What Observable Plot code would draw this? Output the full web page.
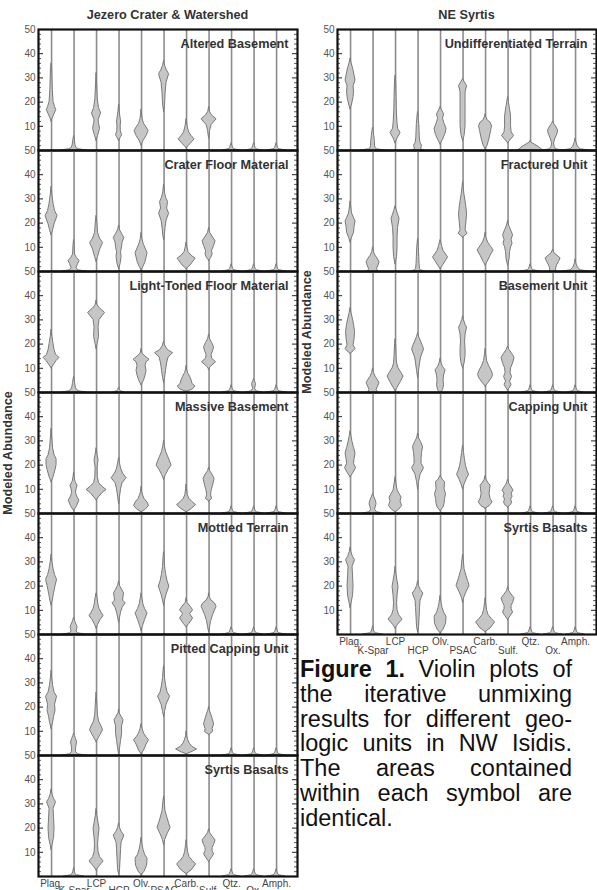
<!DOCTYPE html>
<html><head><meta charset="utf-8">
<script src="https://cdn.jsdelivr.net/npm/d3@7"></script>
<script src="https://cdn.jsdelivr.net/npm/@observablehq/plot@0.6"></script>
<style>
body{margin:0;background:#fff;}
#root{position:relative;width:597px;height:890px;overflow:hidden;font-family:"Liberation Sans",Arial,sans-serif;}
.col-title{position:absolute;top:7px;width:300px;font-weight:bold;font-size:12.7px;line-height:16px;color:#333;text-align:center;}
.ylab{position:absolute;font-weight:bold;font-size:12.7px;color:#333;white-space:nowrap;transform:translate(-50%,-50%) rotate(-90deg);}
.panel{position:absolute;}
#caption{position:absolute;left:300px;top:657px;width:272px;font-size:23.5px;line-height:24.8px;text-align:justify;color:#111;}
</style></head>
<body><div id="root"></div>
<script>
// ---------- categories & ticks ----------
const minerals = ["Plag.","K-Spar","LCP","HCP","Olv.","PSAC","Carb.","Sulf.","Qtz.","Ox.","Amph."];
const upperRowLabels = [0,2,4,6,8,10];   // indices labelled on the upper row
const lowerRowLabels = [1,3,5,7,9];      // indices labelled on the lower row
const yMajorTicks = [10,20,30,40,50];
const yMinorTicks = [2,4,6,8,12,14,16,18,22,24,26,28,32,34,36,38,42,44,46,48];

// ---------- violin profiles: [abundance, density half-width] per mineral ----------
const alteredBasement = [
  [[12,0],[13,0.8],[15,3],[16.7,4.7],[18,3.5],[20,2],[25,1.2],[34,0.6],[36,0]],
  [[0,13],[0.5,5],[1,2.5],[2,1.5],[4,0.8],[6,0]],
  [[4,0],[6,1.5],[9,3.5],[11,2.5],[12.5,2],[15.3,4.5],[17.5,2.5],[21,1.2],[28,0.5],[32,0]],
  [[4,0],[5.5,2],[6.3,3],[8,1.8],[10,1.6],[12,2],[14,1.3],[16,0.6],[19,0]],
  [[2,0],[4,2],[6,5],[8,7],[9.5,5],[11,2.5],[13,1],[17,0]],
  [[16,0],[19,1],[24,1.6],[28,2.5],[31.5,5],[33,3],[35,1],[37,0]],
  [[1,0],[2.5,3.5],[4.6,8],[6,5],[7.5,2.5],[10,1],[13,0]],
  [[5,0],[8,1],[10.5,2.5],[12.9,7.5],[14.5,3],[16,0.8],[18,0]],
  [[0,9],[0.5,3],[1,1.5],[2,0.8],[3,0]],
  [[0,8],[0.5,3],[1,1.5],[2,0.8],[3,0]],
  [[0,10],[0.5,3],[1,1.5],[2,0.8],[3,0]]
];
const craterFloor = [
  [[15,0],[17,1.5],[19.5,3],[22.9,6],[25,3.5],[28,2],[31,1],[35,0]],
  [[0,12],[0.5,4],[1.5,2.5],[3,4],[4.4,5.5],[5.5,3],[7,1],[11,0.5],[13,0]],
  [[4,0],[6,1.5],[9,3.5],[11.8,6.5],[13.5,3.5],[16,1.5],[20,0.8],[23,0]],
  [[1,0],[3,1.5],[6,2.5],[8,2],[10,3],[12,3.5],[13.9,5.3],[15.5,3],[17,1],[19,0]],
  [[0.5,0],[2,2],[4,4],[7.6,6],[9.5,4],[11.5,2],[13.5,0.8],[16,0]],
  [[13,0],[15,0.8],[18,1.5],[21,2.5],[23.9,5],[26,3],[28.7,4],[30.5,2],[33,0.7],[36,0]],
  [[1,0],[2.5,4],[5.3,9],[6.5,5],[8,2],[10,0.8],[12,0]],
  [[4.5,0],[5.5,2],[6.9,3.5],[8.5,3],[10.5,5],[12.5,6.5],[14,4],[16,1],[18,0]],
  [[0,9],[0.5,3],[1,1.5],[2,0.7],[3,0]],
  [[0,9],[0.5,3],[1,1.5],[2,0.7],[3,0]],
  [[0,10],[0.5,3],[1,1.5],[2,0.7],[3,0]]
];
const lightToned = [
  [[10,0],[11.5,2.5],[13,5],[14.3,8],[15.5,4.5],[17.5,3],[20,2],[23,0.8],[26,0]],
  [[0,12],[0.5,5],[1,3],[2,1.8],[4,1],[6.5,0]],
  [[18,0],[20,1],[23,2.5],[27,2],[30,3],[32.9,8.5],[34.5,4],[36,1],[38,0]],
  [[0,6],[0.5,2],[1,1],[2,0]],
  [[3,0],[5,2.5],[7,4],[9,5],[11,4],[12.5,5],[13.5,8],[14.5,5],[16,1],[18,0]],
  [[4,0],[6,1],[9,2],[12,3],[14.5,4.5],[16.25,9],[17.5,4],[19,1.5],[21,0]],
  [[0.3,0],[1.2,6],[2.4,9],[3.5,6],[5,5],[6.5,3.5],[8,1.5],[9.5,0.5],[11,0]],
  [[9.5,0],[10.5,1.5],[12.5,7],[14,3],[15.5,2.5],[17,4],[18.75,5],[20.5,3],[22,1],[24,0]],
  [[0,9],[0.5,3],[1,1.5],[2,0.7],[3,0]],
  [[0,8],[0.5,2.5],[1.5,1],[2.5,1.5],[3.5,2],[4.5,1],[5.5,0]],
  [[0,10],[0.5,3],[1,1.5],[2,0.7],[3,0]]
];
const massiveBasement = [
  [[13,0],[15,2],[18,4],[20,5],[22.5,5],[24,3],[27,1.5],[31,0.7],[35,0]],
  [[1,0],[3,3],[5.3,5.3],[7,3],[8.5,2],[10,2.5],[11.5,3.5],[13,1.5],[15,0.5],[17,0]],
  [[5.5,0],[7,3],[8.5,6],[9.7,10],[11,6],[12.5,2.5],[15,1.2],[19,1],[22,2],[24,1],[27,0]],
  [[4,0],[7,1],[10,2],[12.5,3.5],[14.6,7.5],[16.5,4],[18.5,2],[21,0.8],[23,0]],
  [[0.5,0],[1.5,4],[3.1,7.5],[4.5,6],[6,3],[7.5,1.5],[9,0.5],[11,0]],
  [[14,0],[16,2],[18,4.5],[19.8,7.5],[21.5,6],[23.5,4],[25.5,2],[28,0.7],[30,0]],
  [[0.5,0],[1.8,5],[3.5,9.5],[4.7,6],[6,3],[7.5,1.2],[10,0.5],[12,0]],
  [[5,0],[6,3],[7.5,2],[9.5,2.5],[11.5,4],[14.3,5.5],[16,3.5],[17.5,1],[19,0]],
  [[0,9],[0.5,3],[1,1.5],[2,0.7],[3,0]],
  [[0,9],[0.5,3],[1,1.5],[2,0.7],[3,0]],
  [[0,9],[0.5,3],[1,1.5],[2,0.7],[3,0]]
];
const mottledTerrain = [
  [[12,0],[14,1.2],[17,2.5],[20,4],[22.6,5.5],[24.5,3.5],[27,2],[30,0.8],[33,0]],
  [[0,11],[0.5,4],[1.3,2.5],[2.2,3],[3.1,3.5],[4,2.5],[5.5,1],[7,0]],
  [[2.5,0],[4,1.5],[6,4],[7.6,7],[9,5],[10.5,3],[12.5,1.8],[15,1],[17,0]],
  [[5,0],[7,1],[9,2],[11,3.5],[12.9,6.5],[14,4],[15.5,4.5],[17,5],[18.5,3],[20,1],[22,0]],
  [[1.5,0],[3.5,1.5],[6,3.5],[8.7,6],[10.5,3.5],[12.5,1.8],[15,0.8],[17,0]],
  [[12,0],[14,1],[16.5,2.5],[19.8,5.3],[22,3.5],[25,2],[28,1],[32,0.5],[34,0]],
  [[3,0],[4.5,3],[6.6,6.5],[8.4,3.5],[10,6.5],[11.5,4],[13,1],[15,0]],
  [[1,0],[3,1],[5.5,2],[8,4],[10,6],[11.4,7.5],[12.8,6],[14,2.5],[15.5,0.5],[17,0]],
  [[0,9],[0.5,3],[1,1.8],[2,0.8],[3,0]],
  [[0,9],[0.5,3],[1,1.5],[2,0.7],[3,0]],
  [[0,9],[0.5,3],[1,1.5],[2,0.7],[3,0]]
];
const pittedCapping = [
  [[11,0],[13.5,1.5],[16,2.5],[18.5,4],[21,3.5],[24.3,5.5],[26,3],[29,1.5],[32,0.7],[35,0]],
  [[0,12],[0.5,4],[1.5,2],[3,2],[4.2,2.5],[5.4,3],[6.8,2],[8,0.8],[9,0]],
  [[5.5,0],[7,2],[8.5,4],[10.4,6.5],[12,5],[14,2.5],[17,1.3],[21,0.8],[26,0]],
  [[0.5,0],[3,1],[6,2],[9,3],[12,3],[14.6,4.5],[16,2.5],[17.5,0.5],[19,0]],
  [[0.5,0],[2,2.5],[4.5,5],[6.3,7.5],[7.5,5],[9,2.5],[11,1],[13,0]],
  [[16,0],[18,1],[21,2.5],[24.3,6],[26,3.5],[29,2],[32,1],[35,0.5],[37,0]],
  [[0.5,0],[1.5,6],[2.5,10.5],[3.5,6],[5,3],[6.5,1.5],[8,0.5],[10,0]],
  [[8.5,0],[9.7,4],[11,3.5],[12.9,5],[14.5,4],[16.5,2.5],[18.5,0.8],[20,0]],
  [[0,9],[0.5,3],[1,1.5],[2,0.7],[3,0]],
  [[0,9],[0.5,3],[1,1.5],[2,0.7],[3,0]],
  [[0,9],[0.5,3],[1,1.5],[2,0.7],[3,0]]
];
const syrtisBasalts = [
  [[11,0],[13,1],[16,2.5],[20,3],[24,2.5],[28,2],[30.7,4.5],[32,2.5],[34,0.8],[36,0]],
  [[0,10],[0.5,3],[1,1.5],[2,0.7],[3.5,0]],
  [[2.5,0],[4,2.5],[6.2,7],[8,3.5],[10,2],[13,1.5],[16,2],[19.7,3],[22,2],[25,0.8],[28,0]],
  [[1,0],[3,1],[7,1.5],[11,2],[14,2.5],[16.9,5.3],[18.5,2.5],[20,1],[22,0]],
  [[0.5,0],[2,3],[4.5,5.5],[7.3,6],[9,3.5],[11,2],[13,1],[16,0]],
  [[13,0],[15,1],[17.5,3.5],[20.1,6.5],[22,5],[24,3.5],[27,1.5],[31,0.6],[33,0]],
  [[1,0],[2.5,5],[5,9.5],[6.5,6],[8,3],[10,1.5],[13,0.5],[15,0]],
  [[6,0],[7.5,2.5],[9.1,5],[10.5,3.5],[11.8,3.5],[13,5],[14.9,6.5],[16.5,3.5],[18,1],[19.5,0]],
  [[0,9],[0.5,3],[1,1.8],[2,0.8],[3,0]],
  [[0,9],[0.5,3],[1,1.8],[2,0.8],[3,0]],
  [[0,9],[0.5,3],[1,1.5],[2,0.7],[3,0]]
];
const undifferentiated = [
  [[17,0],[19,1.5],[22,3],[24.3,3.5],[26.5,3],[28.9,5],[31,4],[34,2.5],[36,1],[38,0]],
  [[0,12],[0.5,4],[1,2.5],[2,2],[4,1.8],[6,1.2],[8,0.6],[9.5,0]],
  [[3,0],[5,2],[7.2,5],[9,2.5],[12,1.8],[17,1.2],[22,1],[28,0.6],[31,0]],
  [[0,6],[0.5,3],[2,4],[3,2.5],[5,1.8],[8,1.5],[11,1.2],[14,0.6],[16,0]],
  [[2.5,0],[4.5,2.5],[7,5],[9,6],[11,4],[13,2.5],[15,3.5],[16.5,1.5],[18,0]],
  [[4,0],[6,1.5],[10,2.5],[15,2.5],[20,2.5],[24,2.5],[26.7,4],[28,2],[29.5,0]],
  [[0.5,0],[2,2],[5,4],[8,5.5],[10,6.5],[11.5,5],[12.5,2],[14,0.5],[15,0]],
  [[3,0],[4.5,3],[6,6],[7.5,3.5],[10,3],[14,3],[17,2],[20,0.8],[22,0]],
  [[0,13],[0.5,11],[1.5,8],[2.5,4],[3.2,1],[4,0]],
  [[0,10],[0.5,3],[1.5,1.5],[3,1],[5,2.5],[7,4.5],[8.3,5],[9.5,3.5],[11,1],[12,0]],
  [[0,14],[0.5,5],[1.5,2.5],[2.5,1.5],[3.5,0.7],[5,0]]
];
const fracturedUnit = [
  [[12,0],[14,1.5],[16,3.5],[18.5,4],[20.7,5],[22,3.5],[24,1.5],[27,0.5],[29,0]],
  [[0,5],[1,4],[2.5,5.5],[3.8,6.5],[5,5],[6.5,2.5],[8,0.8],[10,0]],
  [[3,0],[6,1.5],[10,2],[14,2],[18,2.5],[21.8,4],[23.5,2.5],[25.5,1],[27,0]],
  [[0,7],[0.5,3],[1,2],[3,1.5],[6,1.2],[10,0.8],[13.5,0]],
  [[1,0],[2.5,2.5],[4.5,5.5],[5.8,7.5],[7,5.5],[8.5,3],[10.5,1.5],[13,0]],
  [[14,0],[15.6,4.5],[17,2.5],[19,3],[21,3.5],[23.5,4],[26,3.5],[29,2.5],[32,1.3],[35,0.5],[37,0]],
  [[2.5,0],[4,2],[6.5,5],[8.7,8],[10.5,5],[12,2.5],[14,0.8],[16,0]],
  [[2.5,0],[5,1.5],[8,2],[10,3],[11.5,4.5],[13,3.5],[15,5],[17,3],[19,1],[21,0]],
  [[0,10],[0.5,3],[1,1.5],[2,0.8],[3,0]],
  [[0,3],[1.2,3],[2.5,4],[4,6],[5.4,7.5],[6.5,4.5],[7.5,1.5],[9,0]],
  [[0,13],[0.5,5],[1.5,2.5],[2.5,1.3],[3.5,0.6],[5,0]]
];
const basementUnit = [
  [[16,0],[17,3],[18,5],[19.5,3],[22,4],[25,4.5],[28,3.5],[31,2],[33,0.8],[35,0]],
  [[0,5],[1,3.5],[2.5,5],[3.8,6.5],[5,5],[6.5,2.5],[8,1],[10,0]],
  [[0.5,0],[2,2],[4.5,5.5],[6.6,8],[8,6],[10,3],[12,1.5],[15,1],[20,0.5],[22,0]],
  [[6,0],[9,1],[12,2],[14.5,3],[17.8,6],[19.5,4.5],[21.5,2.5],[23,1],[24.5,0]],
  [[0,1],[1,2.5],[3,3.5],[5,3],[7,3.5],[9.2,5],[10.5,2.5],[12,1],[14,0]],
  [[10,0],[12,1.5],[15,2.5],[18,2.5],[21,2],[24,2.5],[26.8,4],[28,2.5],[30,0.8],[31.5,0]],
  [[2.5,0],[4,3],[6,6.5],[7.3,7.5],[9,6],[11,3.5],[13,1.5],[16,0.5],[18,0]],
  [[0.8,0],[2,2],[3.2,3.5],[4.5,2],[6.4,4],[8,2.5],[10,3],[12,5],[14.3,6.5],[16,4],[17.5,1.5],[19,0]],
  [[0,8],[0.5,3],[1,1.5],[2,0.7],[3,0]],
  [[0,8],[0.5,3],[1,1.5],[2,0.7],[3,0]],
  [[0,8],[0.5,3],[1,1.5],[2,0.7],[3,0]]
];
const cappingUnit = [
  [[15,0],[16.5,2.5],[18.75,5.5],[20.5,3.5],[22.5,4],[24.7,5],[27,3.5],[29.5,2],[32,0.8],[34,0]],
  [[0,10],[0.5,4],[1.5,2],[2.5,2.5],[3.8,3.5],[5,3],[6.5,1.5],[8,0]],
  [[0.5,0],[1.5,3.5],[3.1,6.5],[5,5],[6.6,6],[8,4],[9.5,2],[12,1],[15,0]],
  [[10,0],[13,1],[16,2.5],[18.75,6],[20.5,3.5],[22.6,3.5],[25,4],[27.5,5],[29.5,3],[31,1],[33,0]],
  [[1,0],[2.5,3],[4,4],[6,4.5],[8,5.5],[10,4],[12.9,4.5],[14,2],[15.5,0]],
  [[10,0],[12,1.5],[14,3.5],[16,6],[17.5,4.5],[19.5,3],[22,2],[25,1],[28,0]],
  [[2,0],[3,4],[4.6,7],[6,5],[8,4],[10,4.5],[11.5,5],[12.5,3],[14,0.8],[15.5,0]],
  [[2.5,0],[3.5,3],[4.6,4],[5.8,3],[6.9,4.5],[8.2,3.5],[9.4,5.5],[10.8,3.5],[12,1.5],[14,0]],
  [[0,8],[0.5,3],[1,1.5],[2,0.7],[3,0]],
  [[0,8],[0.5,3],[1,1.5],[2,0.7],[3,0]],
  [[0,8],[0.5,3],[1,1.5],[2,0.7],[3,0]]
];

const leftUnits = [
  ["Altered Basement", alteredBasement],
  ["Crater Floor Material", craterFloor],
  ["Light-Toned Floor Material", lightToned],
  ["Massive Basement", massiveBasement],
  ["Mottled Terrain", mottledTerrain],
  ["Pitted Capping Unit", pittedCapping],
  ["Syrtis Basalts", syrtisBasalts]
];
const rightUnits = [
  ["Undifferentiated Terrain", undifferentiated],
  ["Fractured Unit", fracturedUnit],
  ["Basement Unit", basementUnit],
  ["Capping Unit", cappingUnit],
  ["Syrtis Basalts", syrtisBasalts]
];
const columnTitles = ["Jezero Crater & Watershed", "NE Syrtis"];
const yTitle = "Modeled Abundance";

// ---------- drawing ----------
const root = document.getElementById("root");
const FONT = '"Liberation Sans", Arial, sans-serif';
const DENSITY_TO_X = 1 / 22.5;   // density half-width -> category units
const PANEL_H = 121, TOP = 29;

function makePanel(unit, profiles, cfg) {
  const rows = [];
  profiles.forEach((prof, i) => prof.forEach(([v, w]) =>
    rows.push({i, v, x1: i - w * DENSITY_TO_X, x2: i + w * DENSITY_TO_X})));
  const mt = 8, mb = cfg.bottom ? 24 : 8;
  const frameW = cfg.width - cfg.ml - cfg.mr;
  const marks = [
    Plot.ruleX(minerals.map((m, i) => i), {x: d => d, y1: 0, y2: 50, stroke: "#8c8c8c", strokeWidth: 1.6}),
    Plot.areaX(rows, {y: "v", x1: "x1", x2: "x2", z: "i", fill: "#c6c6c6", stroke: "#7a7a7a", strokeWidth: 1, curve: "linear"}),
    Plot.tickY(yMajorTicks, {y: d => d, insetRight: frameW - 5, stroke: "#222", strokeWidth: 1}),
    Plot.tickY(yMajorTicks, {y: d => d, insetLeft: frameW - 5, stroke: "#222", strokeWidth: 1}),
    Plot.tickY(yMinorTicks, {y: d => d, insetRight: frameW - 3, stroke: "#333", strokeWidth: 0.8}),
    Plot.tickY(yMinorTicks, {y: d => d, insetLeft: frameW - 3, stroke: "#333", strokeWidth: 0.8}),
    Plot.axisY({ticks: yMajorTicks, tickSize: 0, tickPadding: 3, fontSize: 10, label: null, color: "#555"}),
    Plot.frame({stroke: "#111", strokeWidth: 2.2}),
    Plot.text([unit], {text: d => d, frameAnchor: "top-right", dx: -9, dy: 14, lineAnchor: "middle", textAnchor: "end",
      fontWeight: "bold", fontSize: 12.7, fill: "#333"})
  ];
  if (cfg.bottom) {
    marks.push(Plot.axisX(upperRowLabels, {tickSize: 0, tickPadding: 3, tickFormat: i => minerals[i], fontSize: 10, label: null, color: "#444"}));
    marks.push(Plot.axisX(lowerRowLabels, {tickSize: 0, tickPadding: cfg.lowerPad, tickFormat: i => minerals[i], fontSize: 10, label: null, color: "#444"}));
  }
  const svg = Plot.plot({
    width: cfg.width, height: PANEL_H + mt + mb,
    marginTop: mt, marginBottom: mb, marginLeft: cfg.ml, marginRight: cfg.mr,
    x: {domain: [-0.58, 10.93], axis: cfg.bottom ? undefined : null},
    y: {domain: [0, 50]},
    style: {background: "transparent", overflow: "visible", fontFamily: FONT},
    marks
  });
  svg.classList.add("panel");
  svg.style.left = cfg.left + "px";
  svg.style.top = (cfg.top - mt) + "px";
  root.appendChild(svg);
}

leftUnits.forEach(([u, p], k) => makePanel(u, p, {left: 0, width: 300, ml: 38, mr: 3, top: TOP + k * PANEL_H, bottom: k === leftUnits.length - 1, lowerPad: 10}));
rightUnits.forEach(([u, p], k) => makePanel(u, p, {left: 300, width: 297, ml: 37, mr: 1, top: TOP + k * PANEL_H, bottom: k === rightUnits.length - 1, lowerPad: 12}));

// titles
[[columnTitles[0], 167.5], [columnTitles[1], 466.5]].forEach(([t, cx]) => {
  const d = document.createElement("div");
  d.className = "col-title"; d.textContent = t; d.style.left = (cx - 150) + "px";
  root.appendChild(d);
});
[[8, TOP + leftUnits.length * PANEL_H / 2], [307, TOP + rightUnits.length * PANEL_H / 2]].forEach(([x, y]) => {
  const d = document.createElement("div");
  d.className = "ylab"; d.textContent = yTitle; d.style.left = x + "px"; d.style.top = y + "px";
  root.appendChild(d);
});
const cap = document.createElement("div");
cap.id = "caption";
cap.innerHTML = "<b>Figure 1.</b> Violin plots of the iterative unmixing results for different geo-logic units in NW Isidis. The areas contained within each symbol are identical.";
root.appendChild(cap);
</script>
</body></html>
